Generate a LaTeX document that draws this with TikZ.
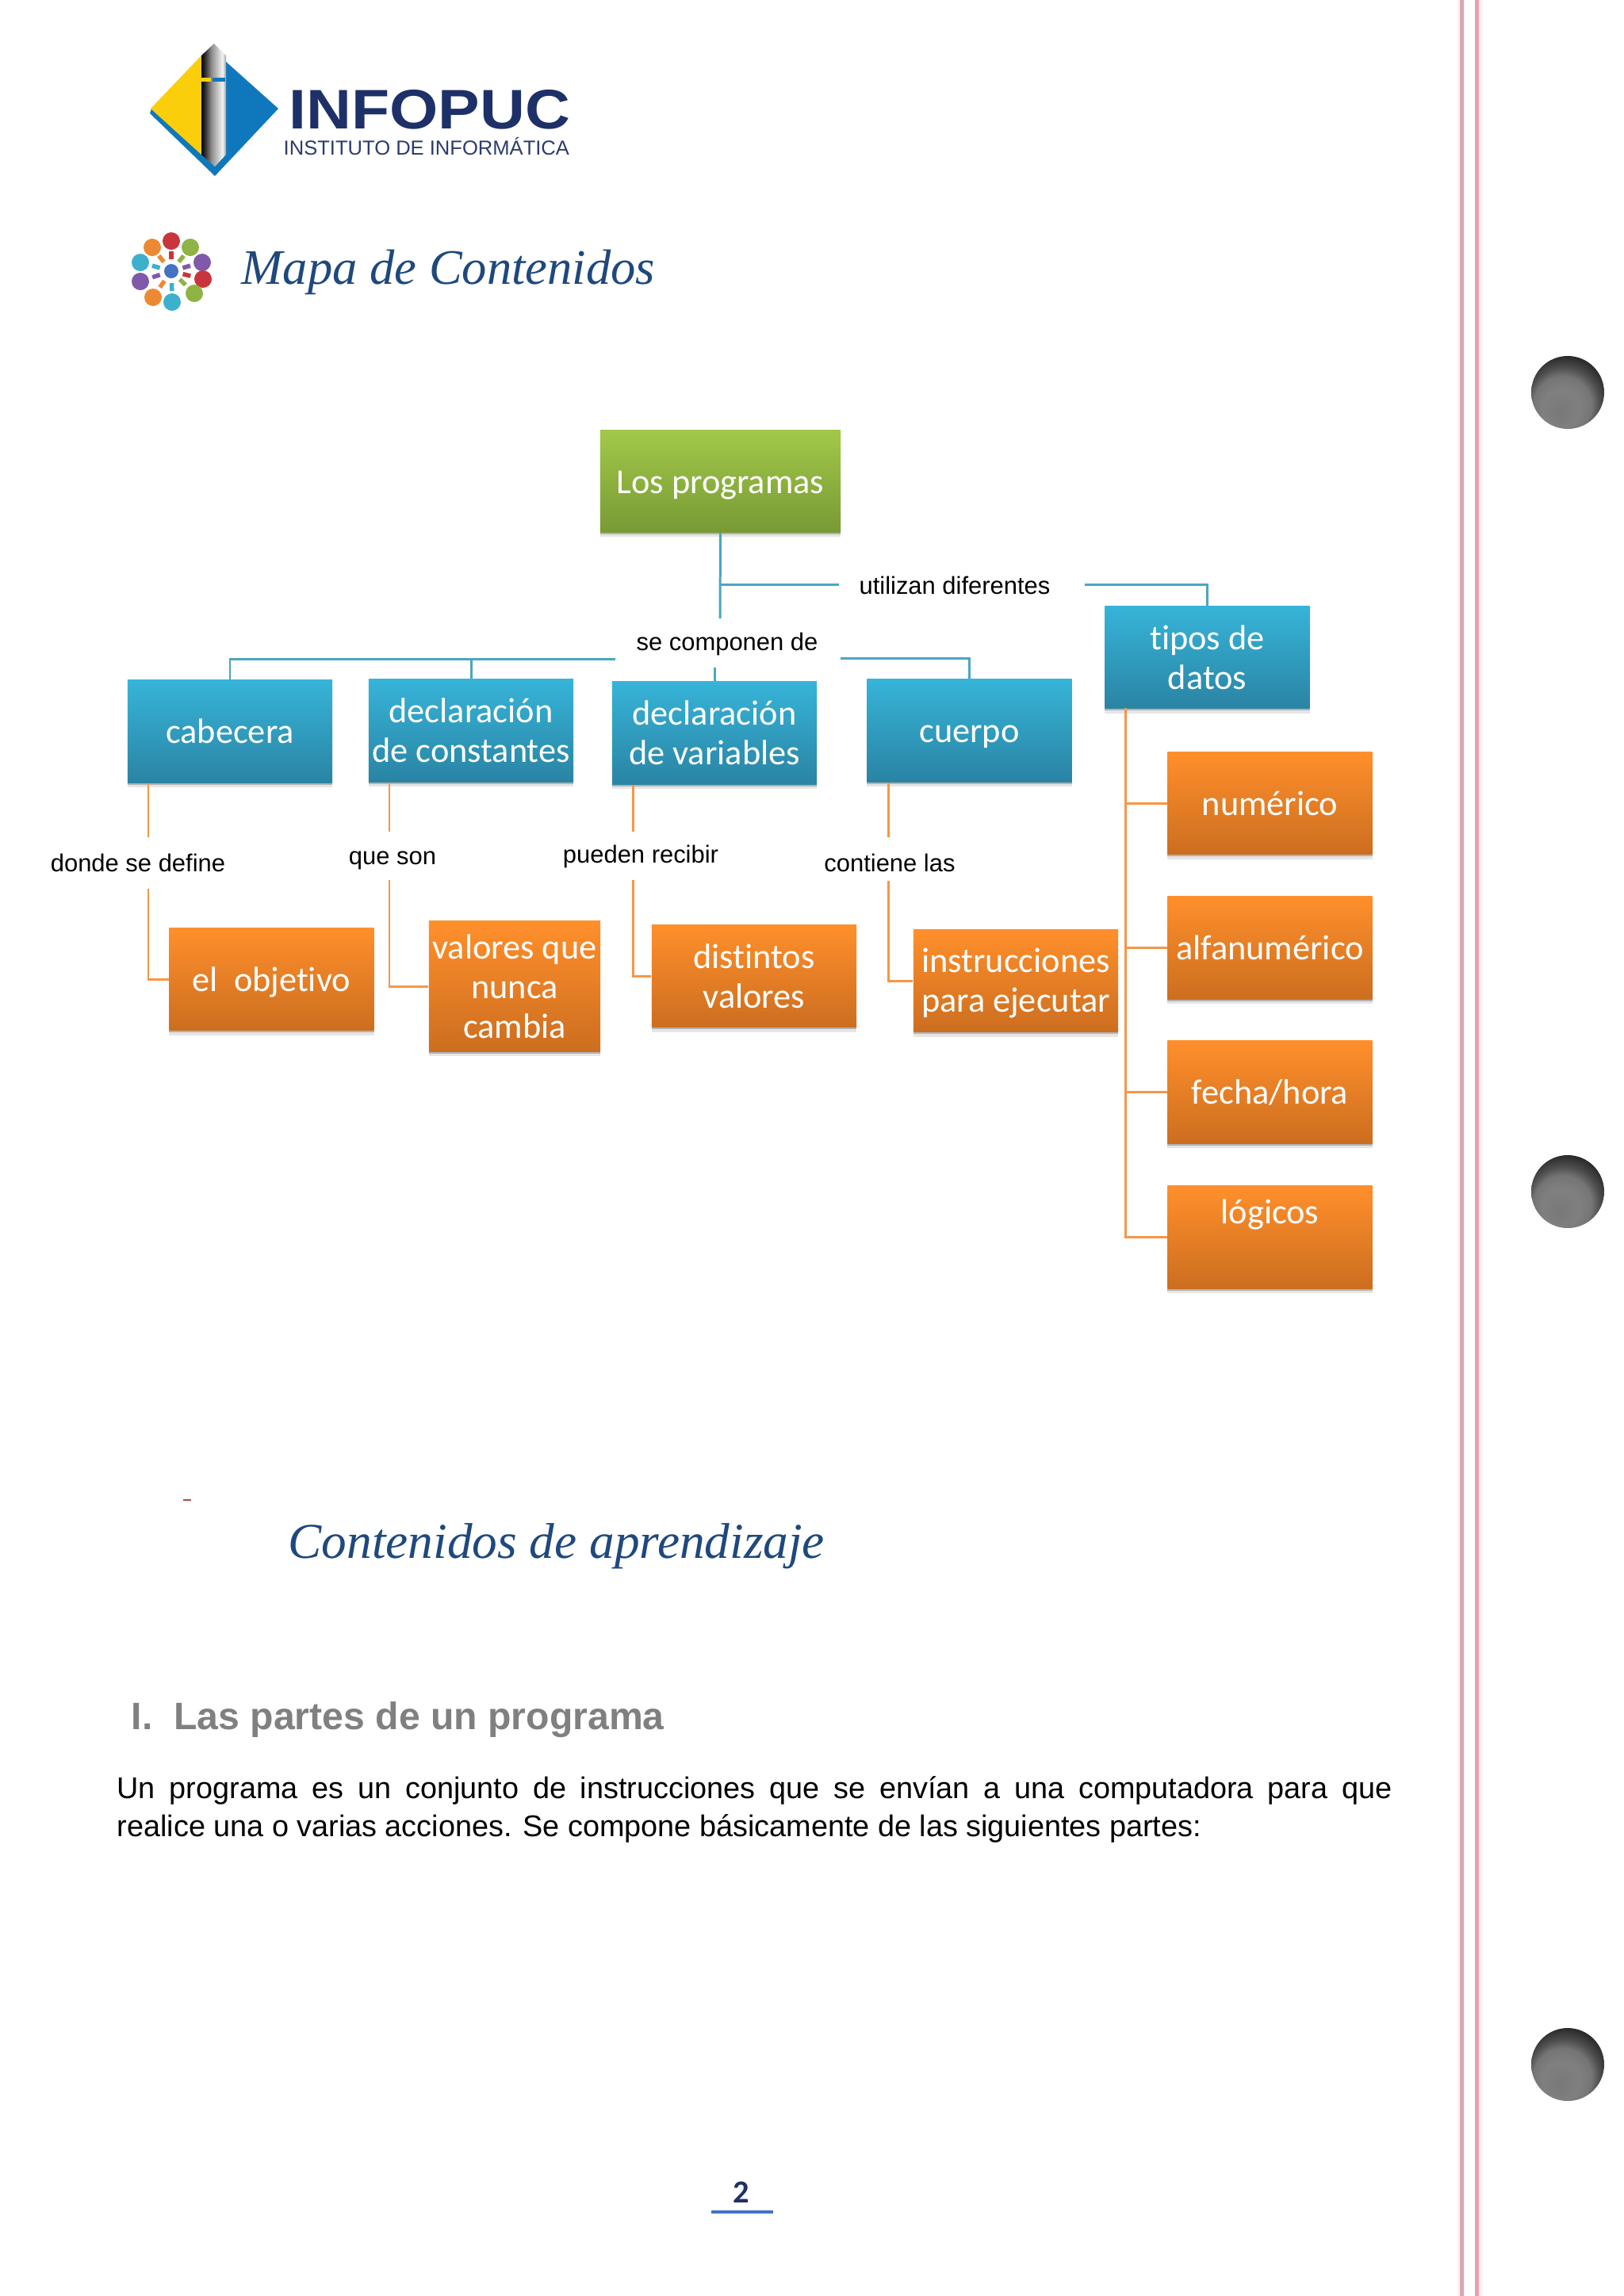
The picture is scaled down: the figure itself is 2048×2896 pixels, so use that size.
\documentclass[tikz,border=0pt]{standalone}
\usepackage{fontspec}
\usepackage{xcolor}
\usetikzlibrary{arrows.meta, positioning, shadows}
\setmainfont{Liberation Sans}
\newfontfamily\boxfont[Ligatures=CommonOff]{Carlito}
\newfontfamily\titlefont{Liberation Serif}

\definecolor{titleblue}{HTML}{1F497D}
\definecolor{logonavy}{HTML}{1E3068}
\definecolor{logoblue}{HTML}{0F78BC}
\definecolor{logoyellow}{HTML}{FBCE0B}
\definecolor{linkblue}{HTML}{4BA6C2}
\definecolor{linkorange}{HTML}{F79646}
\definecolor{greentop}{HTML}{A2C84A}
\definecolor{greenbot}{HTML}{789A34}
\definecolor{bluetop}{HTML}{36B4D8}
\definecolor{bluebot}{HTML}{2A84A4}
\definecolor{orangetop}{HTML}{FF8F2B}
\definecolor{orangebot}{HTML}{CC6E20}
\definecolor{marginA}{HTML}{D8A8B4}
\definecolor{marginB}{HTML}{E8A0B0}
\definecolor{iconblue}{HTML}{4472C4}
\definecolor{iconred}{HTML}{C8353A}
\definecolor{iconorange}{HTML}{EC8A34}
\definecolor{icongreen}{HTML}{90B346}
\definecolor{iconcyan}{HTML}{3DB0CE}
\definecolor{iconpurple}{HTML}{8059AA}

\pgfdeclarehorizontalshading{pencilshade}{100bp}{
  rgb(0bp)=(0.05,0.05,0.05); rgb(27bp)=(0.05,0.05,0.05); rgb(33bp)=(0.2,0.2,0.2);
  rgb(45bp)=(0.55,0.55,0.55); rgb(62bp)=(0.85,0.85,0.85); rgb(68bp)=(0.95,0.95,0.95);
  rgb(75bp)=(0.62,0.62,0.62); rgb(100bp)=(0.62,0.62,0.62)}
\pgfdeclareradialshading{holeshade}{\pgfpoint{-6bp}{-15bp}}{
  rgb(0bp)=(0.47,0.47,0.47); rgb(13bp)=(0.5,0.5,0.5); rgb(20bp)=(0.46,0.46,0.46);
  rgb(25bp)=(0.3,0.3,0.3); rgb(31bp)=(0.16,0.16,0.16); rgb(50bp)=(0.16,0.16,0.16)}

\tikzset{
  mapbox/.style={minimum width=2.58cm, minimum height=1.29cm, inner sep=0pt, align=center,
    text=white, font=\boxfont\fontsize{12.6}{14.2}\selectfont,
    drop shadow={shadow xshift=0pt, shadow yshift=-.25mm, opacity=.22, fill=black},
    drop shadow={shadow xshift=0pt, shadow yshift=-.6mm, opacity=.1, fill=black}},
  greenbox/.style={mapbox, top color=greentop, bottom color=greenbot},
  bluebox/.style={mapbox, top color=bluetop, bottom color=bluebot},
  orangebox/.style={mapbox, top color=orangetop, bottom color=orangebot},
  oneline/.style={text height=9pt, text depth=.2pt},
  linktext/.style={inner sep=0pt, font=\fontsize{8.8}{10.5}\selectfont},
  bluelink/.style={draw=linkblue, line width=.85pt},
  orangelink/.style={draw=linkorange, line width=.85pt},
  ray/.style={line width=.55mm}
}

\begin{document}
\begin{tikzpicture}[x=0.01cm, y=-0.01cm]
  \useasboundingbox (0,0) rectangle (2048,2896);
  \fill[white] (0,0) rectangle (2048,2896);

  % Margin lines and holes
  \fill[red!6] (1838,0) rectangle (1870,2896);
  \fill[white] (1847,0) rectangle (1860,2896);
  \fill[marginA] (1841,0) rectangle (1846,2896);
  \fill[marginB] (1860,0) rectangle (1865,2896);
  \shade[shading=holeshade] (1977,495) circle (46);
  \shade[shading=holeshade] (1977,1503) circle (46);
  \shade[shading=holeshade] (1977,2604) circle (46);

  % Logo
  \fill[logoblue] (284,77) -- (351,137) -- (271,222) -- (189,143) -- (191,137) -- (271,210) -- (284,195) -- cycle;
  \fill[logoyellow] (190,137) -- (254,70) -- (254,195) -- cycle;
  \shade[shading=pencilshade] (254,70) -- (270,55) -- (285,70) -- (285,195) -- (271,210) -- (254,195) -- cycle;
  \fill[logoyellow] (254,98) rectangle (266,103);
  \fill[logoblue] (268,98) rectangle (284,103);
  \node[anchor=base west, inner sep=0pt, text=logonavy, font=\bfseries\fontsize{20}{22}\selectfont] (infopuc) at (364,162) {\scalebox{1.12}[1]{INFOPUC}};
  \node[anchor=base west, inner sep=0pt, text=logonavy!85!gray, font=\fontsize{7.27}{9}\selectfont] (instituto) at (357,195) {INSTITUTO DE INFORMÁTICA};

  % Icon beside the title
  \fill[iconblue] (216,342) circle (9);
  \draw[ray,iconred] (216,342) ++(-90:15) -- ++(-90:10);
  \draw[ray,iconorange] (216,342) ++(-129:15) -- ++(-129:10);
  \draw[ray,icongreen] (216,342) ++(-51:15) -- ++(-51:10);
  \draw[ray,iconcyan] (216,342) ++(-164:15) -- ++(-164:10);
  \draw[ray,iconpurple] (216,342) ++(-16:15) -- ++(-16:10);
  \draw[ray,iconpurple] (216,342) ++(162:15) -- ++(162:10);
  \draw[ray,iconred] (216,342) ++(14:15) -- ++(14:10);
  \draw[ray,iconorange] (216,342) ++(125:15) -- ++(125:10);
  \draw[ray,icongreen] (216,342) ++(44:15) -- ++(44:10);
  \draw[ray,iconcyan] (216,342) ++(88:15) -- ++(88:10);
  \fill[iconred] (216,304) circle (11);
  \fill[iconorange] (192,312) circle (11);
  \fill[icongreen] (240,312) circle (11);
  \fill[iconcyan] (177,331) circle (11);
  \fill[iconpurple] (255,331) circle (11);
  \fill[iconpurple] (177,355) circle (11);
  \fill[iconred] (256,352) circle (11);
  \fill[iconorange] (193,375) circle (11);
  \fill[icongreen] (245,370) circle (11);
  \fill[iconcyan] (217,381) circle (11);

  % Titles
  \node[anchor=base west, inner sep=0pt, text=titleblue, font=\titlefont\itshape\fontsize{17.8}{20}\selectfont] (mapa) at (304,358) {Mapa de Contenidos};
  \node[anchor=base west, inner sep=0pt, text=titleblue, font=\titlefont\itshape\fontsize{18}{20}\selectfont] (contenidos) at (363,1965) {Contenidos de aprendizaje};
  \fill[red!50!black!70] (231,1891) rectangle (241,1893);

  % Top of the map
  \node[greenbox, oneline, minimum width=3.03cm, minimum height=1.28cm] (programas) at (908.5,607) {Los programas};
  \node[bluebox, oneline] (cabecera) at (290,922.5) {cabecera};
  \node[bluebox] (constantes) at (594,921.5) {declaración\\de constantes};
  \node[bluebox] (variables) at (901,924.5) {declaración\\de variables};
  \node[bluebox, oneline] (cuerpo) at (1222.5,921.5) {cuerpo};
  \node[bluebox] (tipos) at (1522.5,829) {tipos de\\datos};

  % Second row
  \node[orangebox, oneline] (objetivo) at (342.5,1235) {el\ \ objetivo};
  \node[orangebox, minimum width=2.16cm, minimum height=1.64cm] (nunca) at (649,1244) {valores que\\nunca\\cambia};
  \node[orangebox] (distintos) at (951,1231) {distintos\\valores};
  \node[orangebox] (instrucciones) at (1281,1237) {\rule{0pt}{10.5pt}instrucciones\\para ejecutar};

  % Data types
  \node[orangebox, oneline] (numerico) at (1601.5,1013) {numérico};
  \node[orangebox, oneline] (alfa) at (1601.5,1195.5) {alfanumérico};
  \node[orangebox, oneline] (fecha) at (1601.5,1377.5) {fecha/hora};
  \node[orangebox] (logicos) at (1601.5,1560.5) {lógicos\\[1.5mm]\mbox{}};

  % Link labels
  \node[linktext] (utilizan) at (1204,738) {utilizan diferentes};
  \node[linktext] (componen) at (917,812) {se componen de};
  \node[linktext] (donde) at (174,1088) {donde se define};
  \node[linktext] (queson) at (495,1085) {que son};
  \node[linktext] (recibir) at (808,1080) {pueden recibir};
  \node[linktext] (contiene) at (1122,1088) {contiene las};

  % Free ends of the links
  \coordinate (usoL) at (1058,737);
  \coordinate (usoR) at (1368,737);
  \coordinate (stem) at (908,780);
  \coordinate (barL) at (776,831);
  \coordinate (barR) at (1060,830);
  \coordinate (varstub) at (901,842);
  \coordinate (dondeup) at (187,1056);
  \coordinate (dondelow) at (187,1121);
  \coordinate (quesonup) at (491,1049);
  \coordinate (quesonlow) at (491,1110);
  \coordinate (recibirup) at (798,1049);
  \coordinate (recibirlow) at (798,1110);
  \coordinate (contieneup) at (1120,1056);
  \coordinate (contienelow) at (1120,1111);
  \coordinate (trunk) at (1419,893);

  % Blue links
  \draw[bluelink] (programas.south) -- (stem);
  \draw[bluelink] (usoL -| programas.south) -- (usoL);
  \draw[bluelink] (usoR) -| (tipos.north);
  \draw[bluelink] (barL) -| (cabecera.north);
  \draw[bluelink] (barL -| constantes.north) -- (constantes.north);
  \draw[bluelink] (barR) -| (cuerpo.north);
  \draw[bluelink] (varstub) -- (variables.north);

  % Orange links
  \draw[orangelink] (cabecera.south -| dondeup) -- (dondeup);
  \draw[orangelink] (dondelow) |- (objetivo.west);
  \draw[orangelink] (constantes.south -| quesonup) -- (quesonup);
  \draw[orangelink] (quesonlow) |- (nunca.west);
  \draw[orangelink] (variables.south -| recibirup) -- (recibirup);
  \draw[orangelink] (recibirlow) |- (distintos.west);
  \draw[orangelink] (cuerpo.south -| contieneup) -- (contieneup);
  \draw[orangelink] (contienelow) |- (instrucciones.west);
  \draw[orangelink] (trunk) |- (logicos.west);
  \draw[orangelink] (numerico.west -| trunk) -- (numerico.west);
  \draw[orangelink] (alfa.west -| trunk) -- (alfa.west);
  \draw[orangelink] (fecha.west -| trunk) -- (fecha.west);

  % Text of the page
  \node[anchor=base west, inner sep=0pt, text=gray, font=\bfseries\fontsize{13.7}{16}\selectfont] (parte) at (165,2181) {I.\ \ Las partes de un programa};
  \node[anchor=north west, inner sep=0pt, text width=16.07cm, align=justify, font=\fontsize{10.75}{13.7}\selectfont] (cuerpotexto) at (147,2240) {Un programa es un conjunto de instrucciones que se envían a una computadora para que\linebreak realice una o varias acciones. Se compone básicamente de las siguientes partes:};

  % Page number
  \node[inner sep=0pt, text=logonavy, font=\boxfont\bfseries\fontsize{11.5}{13}\selectfont] (pagina) at (935,2765) {2};
  \draw[iconblue, line width=1.4pt] (897,2790) -- (975,2790);
\end{tikzpicture}
\end{document}
